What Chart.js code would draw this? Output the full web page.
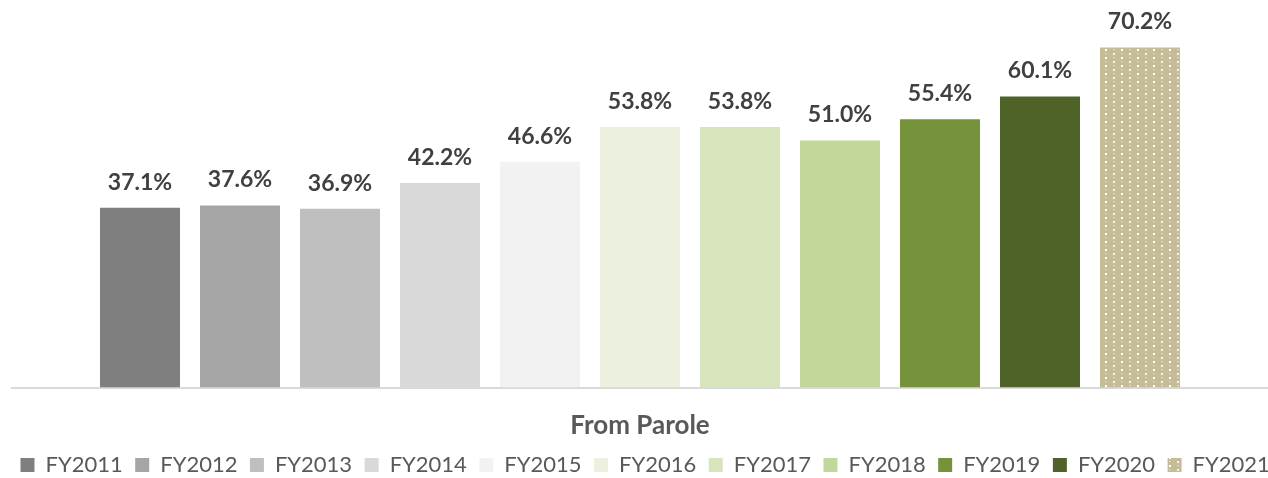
<!DOCTYPE html>
<html>
<head>
<meta charset="utf-8">
<script src="https://cdn.jsdelivr.net/npm/chart.js@4.4.1/dist/chart.umd.min.js"></script>
<style>
  html, body { margin: 0; padding: 0; background: #ffffff; }
  #wrap { width: 1268px; height: 478px; }
</style>
</head>
<body>
<div id="wrap"><canvas id="c" width="1268" height="478"></canvas></div>
<script>
const categories = ['From Parole'];
const seriesNames = ['FY2011','FY2012','FY2013','FY2014','FY2015','FY2016','FY2017','FY2018','FY2019','FY2020','FY2021'];
const seriesValues = [37.1, 37.6, 36.9, 42.2, 46.6, 53.8, 53.8, 51.0, 55.4, 60.1, 70.2];
const seriesColors = ['#7f7f7f','#a5a5a5','#bfbfbf','#d9d9d9','#f2f2f2','#ebf1de','#d8e4bc','#c4d79b','#76933c','#4f6228','pattern'];
const yMax = 80;

function makePattern() {
  const t = document.createElement('canvas');
  t.width = 16; t.height = 8;
  const g = t.getContext('2d');
  g.fillStyle = '#c4bd97';
  g.fillRect(0, 0, 16, 8);
  g.fillStyle = 'rgba(255,255,255,1)';
  g.fillRect(1, 1, 2, 2);
  g.fillStyle = 'rgba(255,255,255,0.85)';
  g.fillRect(9, 5, 2, 2);
  g.fillStyle = 'rgba(255,255,255,0.45)';
  g.fillRect(9, 1, 2, 1);
  g.fillRect(1, 5, 2, 1);
  return document.getElementById('c').getContext('2d').createPattern(t, 'repeat');
}
const pattern = makePattern();

const datasets = seriesNames.map((name, i) => ({
  label: name,
  data: [seriesValues[i]],
  backgroundColor: seriesColors[i] === 'pattern' ? pattern : seriesColors[i],
  borderWidth: 0,
  borderColor: 'rgba(0,0,0,0)'
}));

const labelPlugin = {
  id: 'barLabels',
  afterDatasetsDraw(chart) {
    const ctx = chart.ctx;
    ctx.save();
    ctx.font = 'bold 23px Lato';
    ctx.fillStyle = '#404040';
    ctx.textAlign = 'center';
    ctx.textBaseline = 'alphabetic';
    chart.data.datasets.forEach((ds, i) => {
      const meta = chart.getDatasetMeta(i);
      meta.data.forEach((bar, j) => {
        const v = ds.data[j];
        ctx.fillText(v.toFixed(1) + '%', bar.x, bar.y - 18);
      });
    });
    ctx.restore();
  }
};

const PAD_L = 8, PAD_R = -30;

new Chart(document.getElementById('c'), {
  type: 'bar',
  data: { labels: categories, datasets: datasets },
  options: {
    responsive: false,
    animation: false,
    maintainAspectRatio: false,
    layout: { padding: { left: PAD_L, right: PAD_R, top: 0, bottom: -8 } },
    categoryPercentage: 0.8758,
    barPercentage: 0.8,
    scales: {
      x: {
        grid: { display: false, drawTicks: false },
        border: { display: true, color: '#d9d9d9', width: 2 },
        ticks: { color: '#595959', font: { family: 'Lato', size: 26, weight: 'bold', lineHeight: 1.385 }, padding: 20 },
        afterFit(s) { s.height = 54; }
      },
      y: {
        display: true,
        position: 'left',
        min: 0,
        max: yMax,
        grid: { display: false, drawTicks: false },
        border: { display: false },
        ticks: { display: false },
        afterFit(s) { s.width = 12 - PAD_L; }
      },
      y2: {
        display: true,
        position: 'right',
        min: 0,
        max: yMax,
        grid: { display: false, drawTicks: false },
        border: { display: false },
        ticks: { display: false },
        afterFit(s) { s.width = -PAD_R; }
      }
    },
    plugins: {
      legend: {
        position: 'bottom',
        align: 'start',
        labels: {
          color: '#595959',
          font: { family: 'Lato', size: 22 },
          boxWidth: 14,
          boxHeight: 14,
          padding: 12.5
        }
      },
      tooltip: { enabled: false }
    }
  },
  plugins: [labelPlugin]
});
</script>
</body>
</html>
